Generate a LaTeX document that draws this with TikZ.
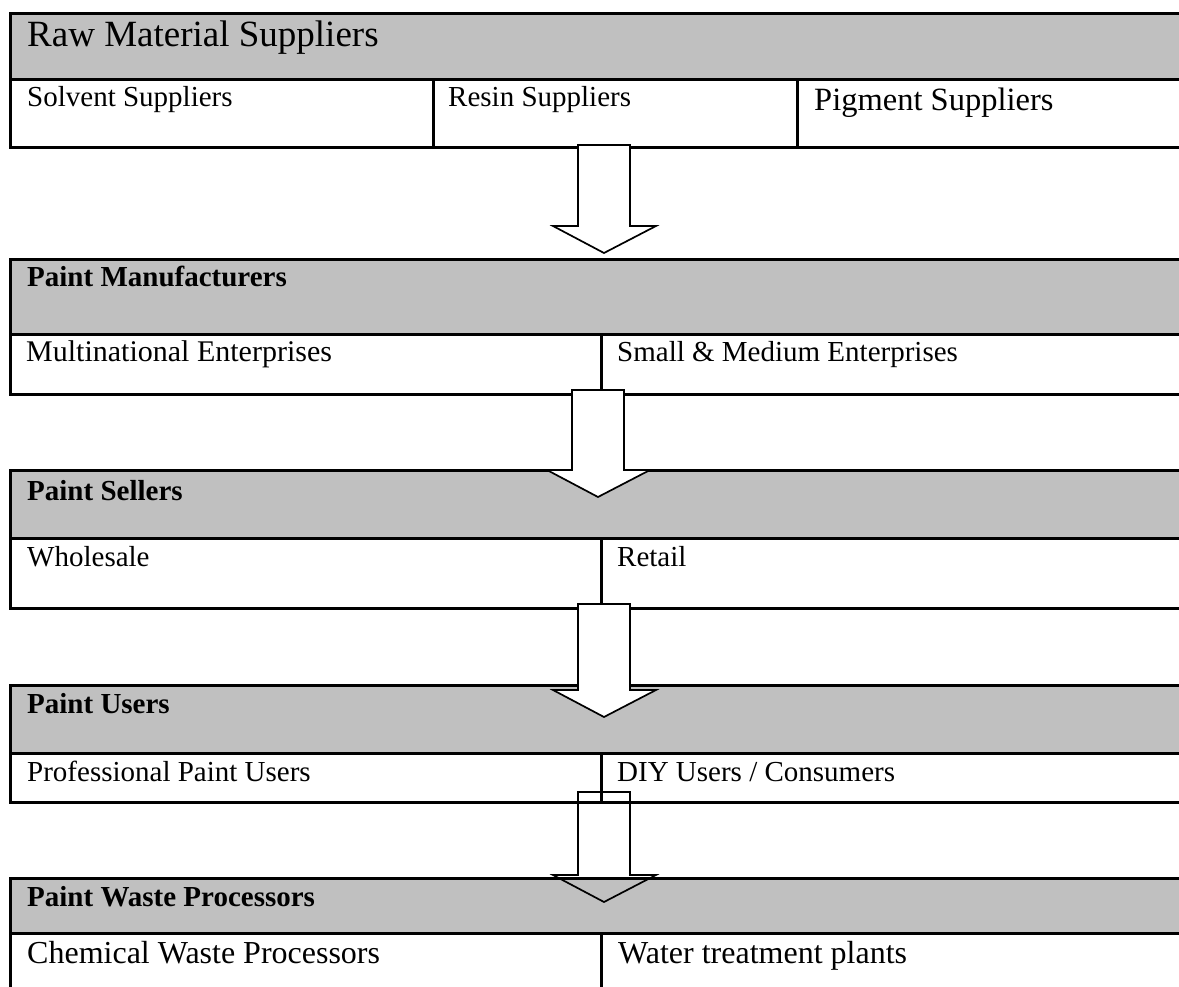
\documentclass[tikz,border=0pt]{standalone}
\usepackage{fontspec}
\setmainfont{Liberation Serif}
\usetikzlibrary{calc}
\definecolor{hdrgray}{RGB}{192,192,192}

% hollow block arrow from a top point down to its tip
\newcommand{\fatarrow}[3][fill=white]{%
  \draw[arrowline,#1] let \p1=(#2), \p2=(#3) in
    (\x1-26pt,\y1) -- (\x1+26pt,\y1) -- (\x1+26pt,\y2+27pt) -- (\x1+52pt,\y2+27pt)
    -- (\x2,\y2) -- (\x1-51pt,\y2+27pt) -- (\x1-26pt,\y2+27pt) -- cycle;}

\begin{document}
\begin{tikzpicture}[x=1pt, y=-1pt,
  headbox/.style={draw, fill=hdrgray, line width=3pt, anchor=north west, inner sep=0pt, outer sep=0pt},
  cellbox/.style={draw, fill=white, line width=3pt, anchor=north west, inner sep=0pt, outer sep=0pt},
  celltext/.style={anchor=base west, inner sep=0pt, font=\fontsize{29}{35}\selectfont},
  headtext/.style={celltext, font=\fontsize{29}{35}\selectfont\bfseries},
  arrowline/.style={draw=black, line width=1.7pt, line join=miter}]
\useasboundingbox (0,0) rectangle (1179,987);

% Raw material suppliers
\node[headbox, minimum width=1175pt, minimum height=66pt] (rawhd) at (10,14) {};
\node[cellbox, minimum width=423pt, minimum height=68pt] (solv) at (10,80) {};
\node[cellbox, minimum width=364pt, minimum height=68pt] (resin) at (433,80) {};
\node[cellbox, minimum width=388pt, minimum height=68pt] (pigm) at (797,80) {};
\node[celltext, font=\fontsize{37}{44}\selectfont] (rawtx) at (27,47) {Raw Material Suppliers};
\node[celltext] (solvtx) at (27,107) {Solvent Suppliers};
\node[celltext] (resintx) at (448,107) {Resin Suppliers};
\node[celltext, font=\fontsize{32.5}{38}\selectfont] (pigmtx) at (814,111) {Pigment Suppliers};

% Manufacturers
\node[headbox, minimum width=1175pt, minimum height=75pt] (manhd) at (10,260) {};
\node[cellbox, minimum width=591pt, minimum height=59pt] (multi) at (10,335) {};
\node[cellbox, minimum width=584pt, minimum height=59pt] (sme) at (601,335) {};
\node[headtext] (mantx) at (27,287) {Paint Manufacturers};
\node[celltext, font=\fontsize{30}{36}\selectfont] (multitx) at (26,361) {Multinational Enterprises};
\node[celltext] (smetx) at (617,361) {Small \& Medium Enterprises};

% Sellers
\node[headbox, minimum width=1175pt, minimum height=68pt] (selhd) at (10,470) {};
\node[cellbox, minimum width=591pt, minimum height=70pt] (whole) at (10,538) {};
\node[cellbox, minimum width=584pt, minimum height=70pt] (retail) at (601,538) {};
\node[headtext] (seltx) at (27,500) {Paint Sellers};
\node[celltext] (wholetx) at (27,566) {Wholesale};
\node[celltext] (retailtx) at (617,566) {Retail};

% Users
\node[headbox, minimum width=1175pt, minimum height=68pt] (usehd) at (10,685) {};
\node[cellbox, minimum width=591pt, minimum height=49pt] (prof) at (10,753) {};
\node[cellbox, minimum width=584pt, minimum height=49pt] (diy) at (601,753) {};
\node[headtext] (usetx) at (27,713) {Paint Users};
\node[celltext] (proftx) at (27,781) {Professional Paint Users};
\node[celltext] (diytx) at (617,781) {DIY Users / Consumers};

% Waste processors
\node[headbox, minimum width=1175pt, minimum height=55pt] (wsthd) at (10,878) {};
\node[cellbox, minimum width=591pt, minimum height=75pt] (chem) at (10,933) {};
\node[cellbox, minimum width=584pt, minimum height=75pt] (water) at (601,933) {};
\node[headtext] (wsttx) at (27,906) {Paint Waste Processors};
\node[celltext, font=\fontsize{32}{38}\selectfont] (chemtx) at (27,963) {Chemical Waste Processors};
\node[celltext, font=\fontsize{32}{38}\selectfont] (watertx) at (618,963) {Water treatment plants};

% Arrows
\coordinate (a1s) at (604,145); \coordinate (a1t) at (604,253);
\coordinate (a2s) at (598,390); \coordinate (a2t) at (598,497);
\coordinate (a3s) at (604,604); \coordinate (a3t) at (604,717);
\coordinate (a4s) at (604,792); \coordinate (a4t) at (604,902);
\fatarrow{a1s}{a1t}
\fatarrow{a2s}{a2t}
\fatarrow{a3s}{a3t}
\fatarrow[fill=none]{a4s}{a4t}
\end{tikzpicture}
\end{document}
